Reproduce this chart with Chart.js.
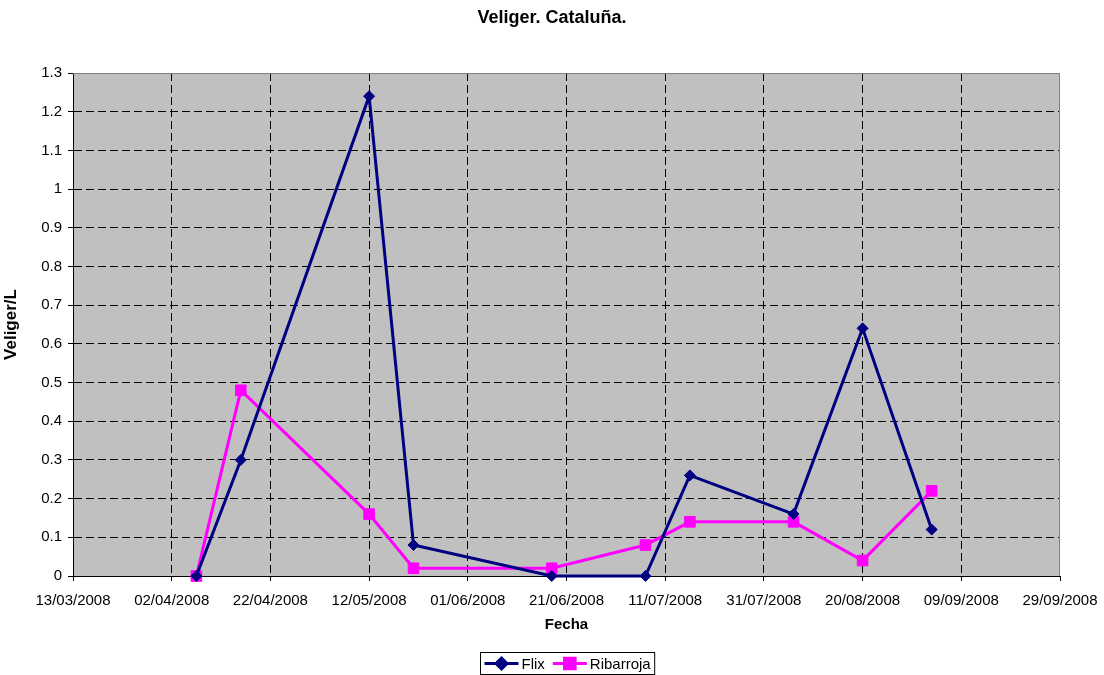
<!DOCTYPE html>
<html>
<head>
<meta charset="utf-8">
<title>Veliger. Cataluña.</title>
<script src="https://cdn.jsdelivr.net/npm/chart.js@4"></script>
<style>
  html, body { margin: 0; padding: 0; background: #ffffff; }
  #wrap { width: 1104px; height: 675px; }
</style>
</head>
<body>
<div id="wrap"><canvas id="grafico" width="1104" height="675"></canvas></div>
<script>
// Fechas de muestreo y valores (Veliger/L)
const fechas = ['07/04/2008', '16/04/2008', '12/05/2008', '21/05/2008', '18/06/2008',
                '07/07/2008', '16/07/2008', '06/08/2008', '20/08/2008', '03/09/2008'];
const flix = [0, 0.3, 1.24, 0.08, 0, 0, 0.26, 0.16, 0.64, 0.12];
const ribarroja = [0, 0.48, 0.16, 0.02, 0.02, 0.08, 0.14, 0.14, 0.04, 0.22];

// Eje X: primera y última marca, cada 20 días
const ejeXInicio = '13/03/2008';
const ejeXFin = '29/09/2008';
const ejeXPaso = 20;

// Eje Y
const ejeYMax = 1.3;
const ejeYPaso = 0.1;

const DIA = 86400000;

function aDia(s) {
    const p = s.split('/');
    return Date.UTC(+p[2], +p[1] - 1, +p[0]) / DIA;
}

function aTexto(d) {
    const f = new Date(Math.round(d) * DIA);
    const dd = String(f.getUTCDate()).padStart(2, '0');
    const mm = String(f.getUTCMonth() + 1).padStart(2, '0');
    return dd + '/' + mm + '/' + f.getUTCFullYear();
}

const puntosFlix = fechas.map((f, i) => ({ x: aDia(f), y: flix[i] }));
const puntosRibarroja = fechas.map((f, i) => ({ x: aDia(f), y: ribarroja[i] }));

const FUENTE = "Arial, 'Liberation Sans', Helvetica, sans-serif";

// gray plot area + grey top/right frame
const fondoPlugin = {
    id: 'fondo',
    beforeDraw(chart) {
        const { ctx, chartArea: a } = chart;
        ctx.save();
        ctx.fillStyle = '#c0c0c0';
        ctx.fillRect(a.left, a.top, a.right - a.left, a.bottom - a.top);
        ctx.restore();
    },
    beforeDatasetsDraw(chart) {
        const { ctx, chartArea: a } = chart;
        ctx.save();
        ctx.strokeStyle = '#808080';
        ctx.lineWidth = 1;
        ctx.beginPath();
        ctx.moveTo(a.left, a.top + 0.5);
        ctx.lineTo(a.right - 0.5, a.top + 0.5);
        ctx.lineTo(a.right - 0.5, a.bottom);
        ctx.stroke();
        ctx.restore();
    }
};

// legend with a box, line + marker for each series
const leyendaPlugin = {
    id: 'leyendaCaja',
    afterDraw(chart) {
        const ctx = chart.ctx;
        const cx = 567, top = 652.5, alto = 22;
        const linea = 34;
        ctx.save();
        ctx.font = '15px ' + FUENTE;
        const items = chart.data.datasets.map(ds => ({ ds, w: ctx.measureText(ds.label).width }));
        let total = 4;
        items.forEach((it, i) => { total += linea + 3 + it.w + (i < items.length - 1 ? 8 : 4); });
        const left = Math.round(cx - total / 2) + 0.5;
        ctx.fillStyle = '#ffffff';
        ctx.fillRect(left, top, total, alto);
        ctx.strokeStyle = '#000000';
        ctx.lineWidth = 1;
        ctx.strokeRect(left, top, total, alto);
        const y = top + alto / 2;
        let x = left + 4;
        items.forEach((it) => {
            const ds = it.ds;
            ctx.strokeStyle = ds.borderColor;
            ctx.lineWidth = 3;
            ctx.beginPath();
            ctx.moveTo(x, y);
            ctx.lineTo(x + linea, y);
            ctx.stroke();
            Chart.helpers.drawPoint(ctx, {
                pointStyle: ds.pointStyle,
                radius: ds.pointRadius,
                borderWidth: 1,
                rotation: 0
            }, x + linea / 2, y);
            ctx.fillStyle = ds.pointBackgroundColor;
            ctx.strokeStyle = ds.pointBorderColor;
            ctx.lineWidth = 1;
            ctx.fill();
            ctx.stroke();
            ctx.fillStyle = '#000000';
            ctx.textBaseline = 'middle';
            ctx.textAlign = 'left';
            ctx.fillText(ds.label, x + linea + 3, y + 1);
            x += linea + 3 + it.w + 8;
        });
        ctx.restore();
    }
};

const bordeTransparente = (ctx) => {
    const n = ctx.scale.ticks.length;
    return (ctx.index === 0 || ctx.index === n - 1) ? 'rgba(0,0,0,0)' : '#000000';
};

new Chart(document.getElementById('grafico'), {
    type: 'line',
    data: {
        datasets: [
            {
                label: 'Flix',
                data: puntosFlix,
                borderColor: '#000080',
                backgroundColor: '#000080',
                borderWidth: 3,
                pointStyle: 'rectRot',
                pointRadius: 5.5,
                pointHoverRadius: 5.5,
                pointBackgroundColor: '#000080',
                pointBorderColor: '#000080',
                pointBorderWidth: 1,
                tension: 0,
                clip: false
            },
            {
                label: 'Ribarroja',
                data: puntosRibarroja,
                borderColor: '#ff00ff',
                backgroundColor: '#ff00ff',
                borderWidth: 3,
                pointStyle: 'rect',
                pointRadius: 7.5,
                pointHoverRadius: 7.5,
                pointBackgroundColor: '#ff00ff',
                pointBorderColor: '#ff00ff',
                pointBorderWidth: 1,
                tension: 0,
                clip: false
            }
        ]
    },
    options: {
        responsive: false,
        animation: false,
        devicePixelRatio: 1,
        layout: { padding: { left: 0, right: 0, top: 0, bottom: 40 } },
        plugins: {
            legend: { display: false },
            tooltip: { enabled: false },
            title: {
                display: true,
                text: 'Veliger. Cataluña.',
                color: '#000000',
                font: { family: FUENTE, size: 18, weight: 'bold' },
                padding: { top: 7, bottom: 44.4 }
            }
        },
        scales: {
            x: {
                type: 'linear',
                min: aDia(ejeXInicio),
                max: aDia(ejeXFin),
                afterFit(scale) {
                    scale.height = 59;
                    scale.paddingRight = 44;
                },
                ticks: {
                    stepSize: ejeXPaso,
                    autoSkip: false,
                    maxRotation: 0,
                    padding: 11,
                    color: '#000000',
                    font: { family: FUENTE, size: 15 },
                    callback: (v) => aTexto(v)
                },
                grid: {
                    color: bordeTransparente,
                    lineWidth: 1,
                    tickColor: '#000000',
                    tickLength: 5,
                    tickBorderDash: []
                },
                border: { color: '#000000', width: 1, dash: [8, 4] },
                title: {
                    display: true,
                    text: 'Fecha',
                    color: '#000000',
                    font: { family: FUENTE, size: 15, weight: 'bold' },
                    padding: { top: 0, bottom: 1 }
                }
            },
            y: {
                min: 0,
                max: ejeYMax,
                afterFit(scale) {
                    scale.width = 73;
                },
                ticks: {
                    stepSize: ejeYPaso,
                    padding: 6,
                    color: '#000000',
                    font: { family: FUENTE, size: 15 },
                    callback: (v) => String(Math.round(v * 10) / 10)
                },
                grid: {
                    color: bordeTransparente,
                    lineWidth: 1,
                    tickColor: '#000000',
                    tickLength: 5,
                    tickBorderDash: []
                },
                border: { color: '#000000', width: 1, dash: [8, 4] },
                title: {
                    display: true,
                    text: 'Veliger/L',
                    color: '#000000',
                    font: { family: FUENTE, size: 17, weight: 'bold' },
                    padding: { top: 1, bottom: 0 }
                }
            }
        }
    },
    plugins: [fondoPlugin, leyendaPlugin]
});
</script>
</body>
</html>
